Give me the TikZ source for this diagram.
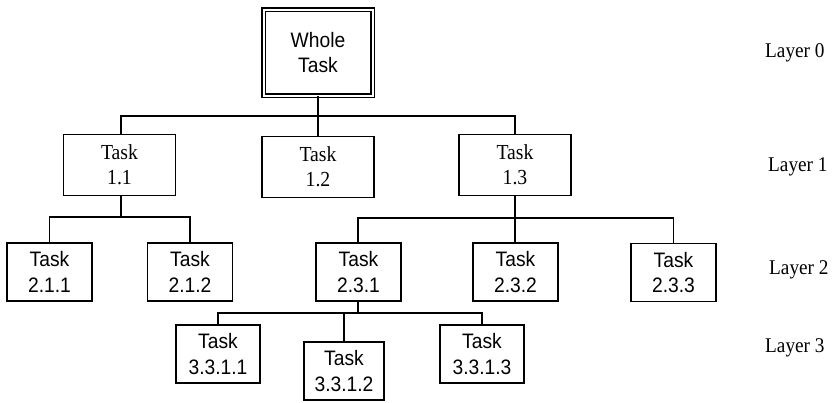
\documentclass[tikz,border=0pt]{standalone}
\usepackage{fontspec}
\setmainfont{Liberation Serif}[FakeStretch=0.92]
\newfontfamily\helv{Liberation Sans}[FakeStretch=0.92]
\begin{document}
\begin{tikzpicture}[x=1bp,y=-1bp,
  box/.style={draw,line width=1.3bp,inner sep=0pt,align=center,
    minimum height=58bp,minimum width=85bp},
  sanstask/.style={box,font=\helv\fontsize{21}{26}\selectfont},
  seriftask/.style={box,minimum width=112bp,minimum height=61bp,
    font=\fontsize{21.5}{25}\selectfont},
  layer/.style={anchor=west,inner sep=0pt,font=\fontsize{21}{25}\selectfont},
  link/.style={line width=1.3bp},
  trunk/.style={line width=2.2bp}]
\useasboundingbox (0,0) rectangle (832,402);

% layer 0
\node[sanstask,minimum width=109bp,minimum height=86bp,double,
  double distance=2bp,line width=1.1bp] (W) at (318,52.5) {Whole\\Task};

% layer 1
\node[seriftask] (T11) at (119.5,165) {Task\\1.1};
\node[seriftask] (T12) at (318,167) {Task\\1.2};
\node[seriftask] (T13) at (515,165) {Task\\1.3};

% layer 2
\node[sanstask] (T211) at (49.5,272) {Task\\2.1.1};
\node[sanstask] (T212) at (190,272) {Task\\2.1.2};
\node[sanstask] (T231) at (358.5,272) {Task\\2.3.1};
\node[sanstask] (T232) at (515.5,272) {Task\\2.3.2};
\node[sanstask] (T233) at (673.5,272.5) {Task\\2.3.3};

% layer 3
\node[sanstask,minimum width=84bp] (T3311) at (218,354) {Task\\3.3.1.1};
\node[sanstask,minimum width=80bp] (T3312) at (344,371) {Task\\3.3.1.2};
\node[sanstask,minimum width=84bp] (T3313) at (482,354) {Task\\3.3.1.3};

% bus coordinates
\coordinate (b0) at (318,116);
\coordinate (b1) at (121,217);
\coordinate (b2) at (515,218);
\coordinate (b3) at (358,313);

% whole task -> layer 1
\draw[trunk] (W.south) -- (b0);
\draw[link] (T11.north -| b1) -- (b1 |- b0) -- (T13.north |- b0) -- (T13.north);
\draw[link] (T12.north) -- (b0);

% task 1.1 -> layer 2
\draw[trunk] (T11.south -| b1) -- (b1);
\draw[link] (T211.north) -- (T211.north |- b1) -- (T212.north |- b1) -- (T212.north);

% task 1.3 -> layer 2
\draw[trunk] (T13.south) -- (b2);
\draw[link] (T231.north -| b3) -- (b3 |- b2) -- (T233.north |- b2) -- (T233.north);
\draw[link] (T232.north -| b2) -- (b2);

% task 2.3.1 -> layer 3
\draw[link] (T231.south -| b3) -- (b3);
\draw[link] (T3311.north) -- (T3311.north |- b3) -- (T3313.north |- b3) -- (T3313.north);
\draw[link] (T3312.north) -- (T3312.north |- b3);

% layer labels
\node[layer] (L0) at (765,53) {Layer 0};
\node[layer] (L1) at (768,167) {Layer 1};
\node[layer] (L2) at (769,270) {Layer 2};
\node[layer] (L3) at (765,348) {Layer 3};
\end{tikzpicture}
\end{document}
